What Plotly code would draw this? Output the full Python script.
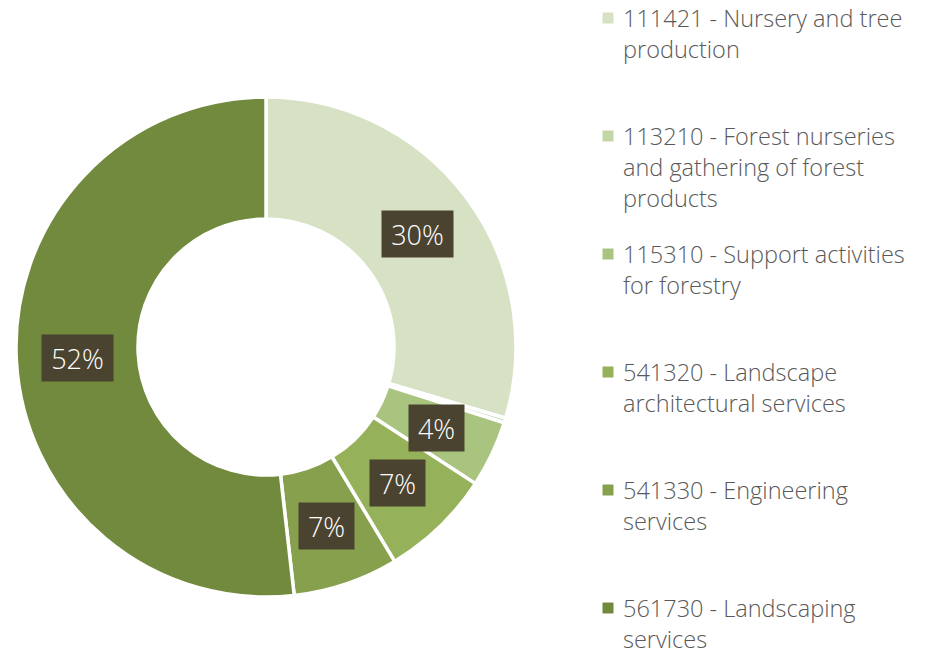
import math
import plotly.graph_objects as go

# ---- data ----
categories = [
    "111421 - Nursery and tree production",
    "113210 - Forest nurseries and gathering of forest products",
    "115310 - Support activities for forestry",
    "541320 - Landscape architectural services",
    "541330 - Engineering services",
    "561730 - Landscaping services",
]
legend_lines = [
    ["111421 - Nursery and tree", "production"],
    ["113210 - Forest nurseries", "and gathering of forest", "products"],
    ["115310 - Support activities", "for forestry"],
    ["541320 - Landscape", "architectural services"],
    ["541330 - Engineering", "services"],
    ["561730 - Landscaping", "services"],
]
values = [29.6, 0.3, 4.3, 7.2, 6.8, 51.8]
colors = ["#D7E2C5", "#C3D6A6", "#A9C47F", "#95B25A", "#86A04E", "#728A3E"]

# figure fills the whole 926x657 window (body margin removed below)
W, H = 926, 657


def px2x(x):
    return x / W


def px2y(y):
    return 1 - y / H


cx, cy, R = 266, 347, 250
hole = 0.512
font_family = "Open Sans, Noto Sans, sans-serif"

fig = go.Figure()
fig.add_trace(go.Pie(
    labels=categories,
    values=values,
    hole=hole,
    sort=False,
    direction="clockwise",
    rotation=0,
    marker=dict(colors=colors, line=dict(color="white", width=3.5)),
    textinfo="none",
    hoverinfo="label+percent",
    showlegend=False,
    domain=dict(x=[px2x(cx - R), px2x(cx + R)], y=[px2y(cy + R), px2y(cy - R)]),
))

annotations = []
shapes = []
# data labels in dark boxes, placed at the middle of each ring segment
total = sum(values)
cum = 0.0
rmid = R * (1 + hole) / 2
for v in values:
    mid = (cum + v / 2) / total * 2 * math.pi
    cum += v
    pct = round(v / total * 100)
    if pct < 1:
        continue
    txt = f"{pct}%"
    px = cx + rmid * math.sin(mid)
    py = cy - rmid * math.cos(mid)
    annotations.append(dict(
        x=px2x(px), y=px2y(py), xref="paper", yref="paper",
        text=txt, showarrow=False,
        font=dict(family=font_family, size=27, color="white", weight=300),
        bgcolor="#4A4330", borderpad=0,
        width=16 * (len(txt) - 1) + 39, height=46,
        align="center", valign="middle",
        xanchor="center", yanchor="middle",
    ))

# legend
leg_x_marker = 608
leg_x_text = 621
leg_y0 = 18
leg_gap = 118
line_h = 31
for i, lines in enumerate(legend_lines):
    y_first = leg_y0 + i * leg_gap
    shapes.append(dict(
        type="rect", xref="paper", yref="paper",
        x0=px2x(leg_x_marker - 5.5), x1=px2x(leg_x_marker + 5.5),
        y0=px2y(y_first + 5.5), y1=px2y(y_first - 5.5),
        fillcolor=colors[i], line=dict(width=0),
    ))
    for k, ln in enumerate(lines):
        annotations.append(dict(
            x=px2x(leg_x_text), y=px2y(y_first + k * line_h),
            xref="paper", yref="paper", text=ln, showarrow=False,
            xanchor="left", yanchor="middle",
            font=dict(family=font_family, size=23.5, color="#595959", weight=300),
        ))

fig.update_layout(
    width=W, height=H,
    margin=dict(l=0, r=0, t=0, b=0),
    paper_bgcolor="white", plot_bgcolor="white",
    annotations=annotations, shapes=shapes,
)
fig.write_html(
    "out.html",
    config={"displayModeBar": False},
    post_script="document.body.style.margin='0';document.body.style.overflow='hidden';",
)
